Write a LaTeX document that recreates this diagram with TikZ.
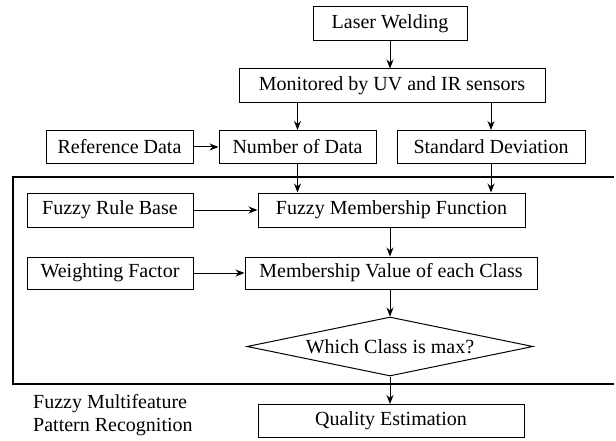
\documentclass[tikz,border=0pt]{standalone}
\usepackage{fontspec}
\setmainfont{Liberation Serif}
\usetikzlibrary{arrows.meta,shapes.geometric}
\begin{document}
\begin{tikzpicture}[x=1pt,y=-1pt,
  txt/.style={font=\fontsize{20}{23}\selectfont},
  box/.style={draw,line width=1pt,inner sep=0pt,txt},
  arr/.style={-{Stealth[length=9pt,width=7pt]},line width=1pt},
  frame/.style={line width=1.6pt},
]
\useasboundingbox (0,0) rectangle (616,441);
\node[box,minimum width=154pt,minimum height=34pt] (lw) at (390,24) {Laser Welding};
\node[box,minimum width=306pt,minimum height=34pt] (mon) at (392,86) {Monitored by UV and IR sensors};
\node[box,minimum width=147pt,minimum height=33pt] (ref) at (119.5,147) {Reference Data};
\node[box,minimum width=157pt,minimum height=33pt] (num) at (297.5,147) {Number of Data};
\node[box,minimum width=188pt,minimum height=33pt] (sd) at (491,147) {Standard Deviation};
\node[box,minimum width=166pt,minimum height=34pt] (frb) at (110,210) {Fuzzy Rule Base};
\node[box,minimum width=267pt,minimum height=34pt] (fmf) at (391.5,210) {Fuzzy Membership Function};
\node[box,minimum width=166pt,minimum height=32pt] (wf) at (110,273) {Weighting Factor};
\node[box,minimum width=292pt,minimum height=32pt] (mvc) at (391,273) {Membership Value of each Class};
\node[box,diamond,aspect=4.85,minimum width=286pt,minimum height=59pt] (dia) at (390,346.5) {Which Class is max?};
\node[box,minimum width=266pt,minimum height=33pt] (qe) at (391,421) {Quality Estimation};
\node[txt,anchor=base west,inner sep=0pt] (lab1) at (33,408) {Fuzzy Multifeature};
\node[txt,anchor=base west,inner sep=0pt] (lab2) at (33,431) {Pattern Recognition};
\draw[frame] (614,177) -- (13,177) -- (13,384) -- (614,384);
\draw[arr] (lw) -- (lw |- mon.north);
\draw[arr] (mon.south -| num) -- (num);
\draw[arr] (mon.south -| sd) -- (sd);
\draw[arr] (ref) -- (num);
\draw[arr] (num) -- (num |- fmf.north);
\draw[arr] (sd) -- (sd |- fmf.north);
\draw[arr] (frb) -- (fmf);
\draw[arr] (fmf.south -| dia) -- (dia |- mvc.north);
\draw[arr] (wf) -- (mvc);
\draw[arr] (mvc.south -| dia) -- (dia);
\draw[arr] (dia) -- (dia |- qe.north);
\end{tikzpicture}
\end{document}
